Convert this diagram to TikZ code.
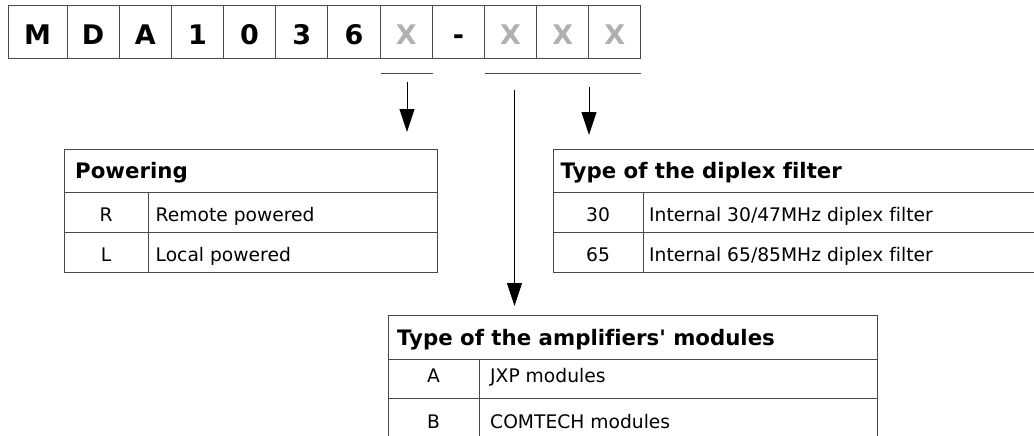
\documentclass[tikz,border=0pt]{standalone}
\usepackage{fontspec}
\setmainfont{DejaVu Sans}[Ligatures={TeXOff,CommonOff}]
\usetikzlibrary{arrows.meta}
\definecolor{lc}{RGB}{72,72,72}
\definecolor{xg}{RGB}{176,176,176}
\tikzset{
  box/.style={draw=lc, line width=1pt, inner sep=0pt, minimum width=52.18pt, minimum height=53pt,
    text height=25pt, text depth=0pt, font=\fontsize{27}{27}\selectfont\bfseries},
  frame/.style={draw=lc, line width=1pt, inner sep=0pt},
  grid/.style={draw=lc, line width=1pt},
  hdr/.style={anchor=base west, inner sep=0pt, font=\fontsize{21.3}{22}\selectfont\bfseries},
  txt/.style={anchor=base west, inner sep=0pt, font=\fontsize{18.7}{20}\selectfont},
  ctr/.style={anchor=base, inner sep=0pt, font=\fontsize{18.7}{20}\selectfont},
  arr/.style={draw=black, line width=1pt, -{Triangle[width=15pt,length=23pt]}},
}
\begin{document}
\begin{tikzpicture}[x=1pt,y=-1pt]
\path[use as bounding box] (0,0) rectangle (1034,436);
\clip (0,0) rectangle (1034,436);
% code boxes
\node[box, minimum width=59pt] (c0) at (37.5,32.5) {M};
\node[box] (c1) at (93.09,32.5) {D};
\node[box] (c2) at (145.27,32.5) {A};
\node[box] (c3) at (197.45,32.5) {1};
\node[box] (c4) at (249.63,32.5) {0};
\node[box] (c5) at (301.81,32.5) {3};
\node[box] (c6) at (353.99,32.5) {6};
\node[box, text=xg] (c7) at (406.17,32.5) {X};
\node[box] (c8) at (458.35,32.5) {-};
\node[box, text=xg] (c9) at (510.53,32.5) {X};
\node[box, text=xg] (c10) at (562.71,32.5) {X};
\node[box, text=xg] (c11) at (614.89,32.5) {X};
% underlines
\draw[grid] (381,74) -- (433,74);
\draw[grid] (485,74) -- (641,74);
% arrow end points
\coordinate (a1s) at (407,82);
\coordinate (a1e) at (407,132);
\coordinate (a2s) at (514.5,90);
\coordinate (a2e) at (514.5,306);
\coordinate (a3s) at (589,87);
\coordinate (a3e) at (589,135);
\draw[arr] (a1s) -- (a1e);
\draw[arr] (a2s) -- (a2e);
\draw[arr] (a3s) -- (a3e);
% Powering table
\node[frame, minimum width=373pt, minimum height=123pt] (pow) at (250.5,210.5) {};
\draw[grid] (64,192) -- (437,192);
\draw[grid] (64,232) -- (437,232);
\draw[grid] (148,192) -- (148,272);
\node[hdr] (powh) at (75,178) {Powering};
\node[ctr] (powr1a) at (106,221) {R};
\node[txt] (powr1b) at (155.5,221) {Remote powered};
\node[ctr] (powr2a) at (106,261) {L};
\node[txt] (powr2b) at (155.5,261) {Local powered};
% Diplex table
\node[frame, minimum width=492pt, minimum height=123pt] (dip) at (799,210.5) {};
\draw[grid] (553,192) -- (1045,192);
\draw[grid] (553,232) -- (1045,232);
\draw[grid] (643,192) -- (643,272);
\node[hdr] (diph) at (560.5,178) {Type of the diplex filter};
\node[ctr] (dipr1a) at (598,221) {30};
\node[txt] (dipr1b) at (649,221) {Internal 30/47MHz diplex filter};
\node[ctr] (dipr2a) at (598,261) {65};
\node[txt] (dipr2b) at (649,261) {Internal 65/85MHz diplex filter};
% Amplifier table
\node[frame, minimum width=489pt, minimum height=130pt] (amp) at (632.5,380) {};
\draw[grid] (388,359) -- (877,359);
\draw[grid] (388,398) -- (877,398);
\draw[grid] (479,359) -- (479,445);
\node[hdr] (amph) at (397,345) {Type of the amplifiers' modules};
\node[ctr] (ampr1a) at (433.5,382) {A};
\node[txt] (ampr1b) at (490,382) {JXP modules};
\node[ctr] (ampr2a) at (433.5,428) {B};
\node[txt] (ampr2b) at (490,428) {COMTECH modules};
\end{tikzpicture}
\end{document}
